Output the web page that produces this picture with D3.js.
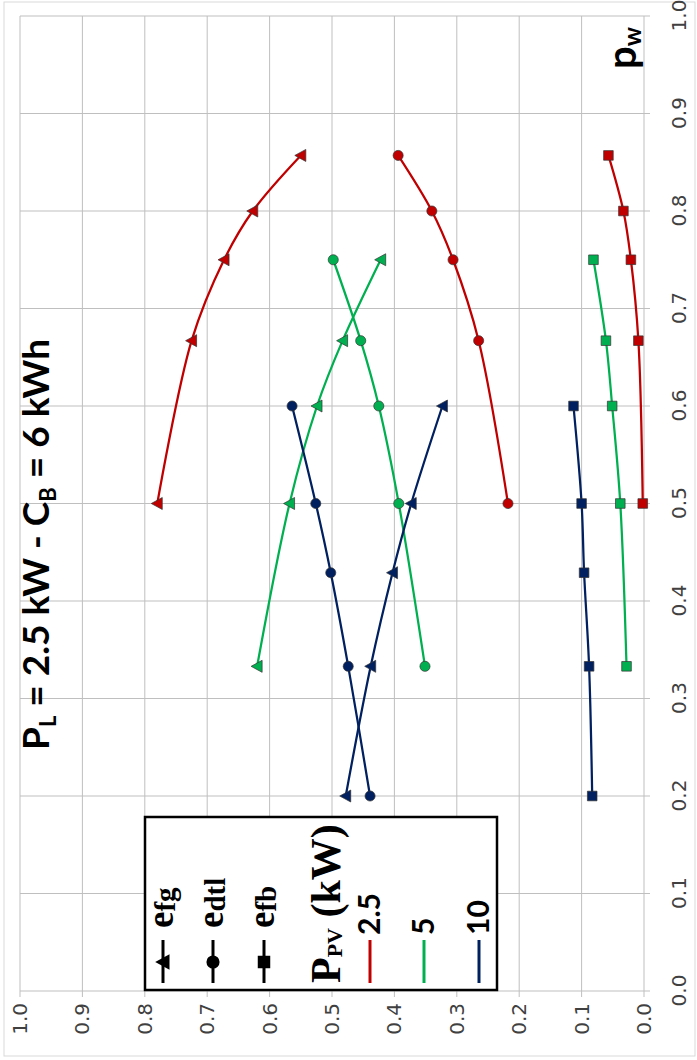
<!DOCTYPE html>
<html>
<head>
<meta charset="utf-8">
<script src="https://cdn.jsdelivr.net/npm/d3@7"></script>
<style>
  html, body { margin: 0; padding: 0; background: #fff; }
  svg { display: block; }
</style>
</head>
<body>
<svg id="chart" width="697" height="1060"></svg>
<script>
// PV ratings (kW) shown in the legend
const pvLabels = ["2.5", "5", "10"];
const pvColors = ["#C00000", "#00B050", "#002060"];

// p_w positions for each PV rating
const pw_2_5 = [0.5, 0.667, 0.75, 0.8, 0.857];
const pw_5   = [0.333, 0.5, 0.6, 0.667, 0.75];
const pw_10  = [0.2, 0.333, 0.429, 0.5, 0.6];

// e_fg
const efg_2_5 = [0.78, 0.725, 0.673, 0.627, 0.55];
const efg_5   = [0.62, 0.568, 0.524, 0.483, 0.422];
const efg_10  = [0.478, 0.438, 0.403, 0.373, 0.323];

// e_dtl
const edtl_2_5 = [0.218, 0.265, 0.306, 0.34, 0.394];
const edtl_5   = [0.351, 0.393, 0.425, 0.454, 0.498];
const edtl_10  = [0.439, 0.474, 0.502, 0.526, 0.564];

// e_fb
const efb_2_5 = [0.002, 0.009, 0.021, 0.033, 0.057];
const efb_5   = [0.028, 0.038, 0.051, 0.061, 0.081];
const efb_10  = [0.083, 0.088, 0.096, 0.1, 0.113];

// Axis ticks
const tickValues = [0, 0.1, 0.2, 0.3, 0.4, 0.5, 0.6, 0.7, 0.8, 0.9, 1.0];

const pwSets = [pw_2_5, pw_5, pw_10];
const metrics = [
  { key: "efg",  shape: "triangle", sets: [efg_2_5, efg_5, efg_10] },
  { key: "edtl", shape: "circle",   sets: [edtl_2_5, edtl_5, edtl_10] },
  { key: "efb",  shape: "square",   sets: [efb_2_5, efb_5, efb_10] }
];

const svg = d3.select("#chart");

// light frame around the whole chart area
svg.append("rect")
  .attr("x", 4).attr("y", 2).attr("width", 691).attr("height", 1054)
  .attr("fill", "none").attr("stroke", "#d9d9d9").attr("stroke-width", 1);

// The chart is laid out landscape (1060 x 697) and turned a quarter turn
const g = svg.append("g").attr("transform", "translate(0,1060) rotate(-90)");

const x = d3.scaleLinear().domain([0, 1]).range([69, 1044]);
const y = d3.scaleLinear().domain([0, 1]).range([644, 20]);

const gridColor = "#bfbfbf";

// grid lines (with small outward ticks)
g.append("g").selectAll("line").data(tickValues).join("line")
  .attr("x1", d => x(d)).attr("x2", d => x(d))
  .attr("y1", y(1)).attr("y2", y(0) + 6)
  .attr("stroke", gridColor).attr("stroke-width", 1);
g.append("g").selectAll("line").data(tickValues).join("line")
  .attr("x1", x(0) - 6).attr("x2", x(1))
  .attr("y1", d => y(d)).attr("y2", d => y(d))
  .attr("stroke", gridColor).attr("stroke-width", 1);

// axes (labels only; the grid draws the lines)
const fmt = d3.format(".1f");
const xAxis = g.append("g").attr("transform", `translate(0,${y(0)})`)
  .call(d3.axisBottom(x).tickValues(tickValues).tickFormat(fmt).tickSize(6).tickPadding(22));
const yAxis = g.append("g").attr("transform", `translate(${x(0)},0)`)
  .call(d3.axisLeft(y).tickValues(tickValues).tickFormat(fmt).tickSize(6).tickPadding(6));
[xAxis, yAxis].forEach(a => {
  a.select(".domain").remove();
  a.selectAll(".tick line").remove();
  a.selectAll("text")
    .attr("font-family", "DejaVu Sans, sans-serif")
    .attr("font-size", 20)
    .attr("fill", "#404040");
});

// marker shapes
function markerPath(shape) {
  if (shape === "triangle") return "M0,-6L6,5L-6,5Z";
  if (shape === "square") return "M-4.8,-4.8H4.8V4.8H-4.8Z";
  return d3.symbol(d3.symbolCircle, 80)();
}

const line = d3.line().curve(d3.curveCatmullRom.alpha(0.5));

// series: one line per PV rating and metric
pvLabels.forEach((lbl, i) => {
  metrics.forEach(m => {
    const pts = pwSets[i].map((p, k) => [x(p), y(m.sets[i][k])]);
    g.append("path")
      .attr("d", line(pts))
      .attr("fill", "none")
      .attr("stroke", pvColors[i])
      .attr("stroke-width", 2.25);
    g.append("g").selectAll("path").data(pts).join("path")
      .attr("transform", d => `translate(${d[0]},${d[1]})`)
      .attr("d", markerPath(m.shape))
      .attr("fill", pvColors[i])
      .attr("stroke", "#333")
      .attr("stroke-width", 0.7);
  });
});

// title
const title = g.append("text")
  .attr("x", 310).attr("y", 49)
  .attr("font-family", "Lato, sans-serif")
  .attr("font-weight", "bold")
  .attr("font-size", 37)
  .attr("fill", "#000");
title.append("tspan").text("P");
title.append("tspan").attr("font-size", 22).attr("dy", 7).text("L");
title.append("tspan").attr("dy", -7).text(" = 2.5 kW - C");
title.append("tspan").attr("font-size", 22).attr("dy", 7).text("B");
title.append("tspan").attr("dy", -7).text(" = 6 kWh");

// axis name p_w
const pwLabel = g.append("text")
  .attr("x", 991).attr("y", 636)
  .attr("font-family", "Lato, sans-serif")
  .attr("font-weight", "bold")
  .attr("font-size", 40)
  .attr("fill", "#000");
pwLabel.append("tspan").text("p");
pwLabel.append("tspan").attr("font-size", 24).attr("dy", 5).text("w");

// legend
const lg = g.append("g");
lg.append("rect")
  .attr("x", 70).attr("y", 145).attr("width", 173).attr("height", 352)
  .attr("fill", "#fff").attr("stroke", "#000").attr("stroke-width", 2.5);

const metricRows = [163, 213, 264];
const metricSubs = ["fg", "dtl", "fb"];
metrics.forEach((m, j) => {
  const v = metricRows[j];
  lg.append("line")
    .attr("x1", 77).attr("x2", 120).attr("y1", v).attr("y2", v)
    .attr("stroke", "#000").attr("stroke-width", 3);
  lg.append("path")
    .attr("transform", `translate(98,${v}) scale(1.3)`)
    .attr("d", markerPath(m.shape))
    .attr("fill", "#000");
  const t = lg.append("text")
    .attr("x", 132).attr("y", v + 10)
    .attr("font-family", "Liberation Serif, serif")
    .attr("font-weight", "bold")
    .attr("font-size", 37)
    .attr("fill", "#000");
  t.append("tspan").text("e");
  t.append("tspan").attr("font-size", 29).attr("dy", 2).text(metricSubs[j]);
});

const ppv = lg.append("text")
  .attr("x", 77).attr("y", 340)
  .attr("font-family", "Liberation Serif, serif")
  .attr("font-weight", "bold")
  .attr("font-size", 42)
  .attr("fill", "#000");
ppv.append("tspan").text("P");
ppv.append("tspan").attr("font-size", 22).attr("dy", 2).text("PV");
ppv.append("tspan").attr("dy", -2).text(" (kW)");

const pvRows = [370, 424, 479];
pvLabels.forEach((lbl, i) => {
  const v = pvRows[i];
  lg.append("line")
    .attr("x1", 77).attr("x2", 120).attr("y1", v).attr("y2", v)
    .attr("stroke", pvColors[i]).attr("stroke-width", 3);
  lg.append("text")
    .attr("x", 125).attr("y", v + 10)
    .attr("font-family", "Lato, sans-serif")
    .attr("font-weight", "bold")
    .attr("font-size", 30)
    .attr("fill", "#000")
    .text(lbl);
});
</script>
</body>
</html>
